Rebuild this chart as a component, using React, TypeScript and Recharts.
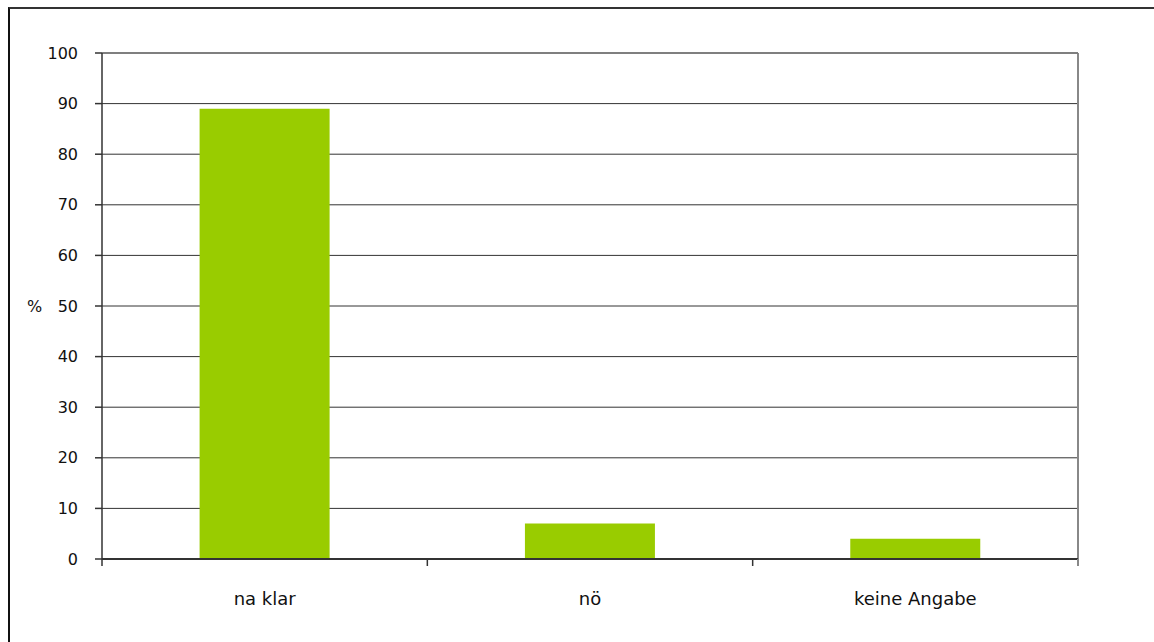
import React from 'react';
import { BarChart, Bar, XAxis, YAxis, CartesianGrid, ReferenceLine } from 'recharts';

const categories = ['na klar', 'nö', 'keine Angabe'];
const values = [89, 7, 4];
const yTicks = [0, 10, 20, 30, 40, 50, 60, 70, 80, 90, 100];

const data = categories.map((c, i) => ({ name: c, value: values[i] }));

const FONT = '"DejaVu Sans", Verdana, sans-serif';
const X_TICK_SIZE = 7;
const X_TICK_MARGIN = 33;

const CategoryTick = (props: any) => {
  const { x, y, payload, index, visibleTicksCount } = props;
  const half = payload && payload.offset ? payload.offset : 0;
  const axisY = y - X_TICK_MARGIN;
  const last = index === (visibleTicksCount ?? categories.length) - 1;
  return (
    <g>
      <line x1={x - half} x2={x - half} y1={axisY} y2={axisY + X_TICK_SIZE} stroke="#333" strokeWidth={1.5} />
      {last && (
        <line x1={x + half} x2={x + half} y1={axisY} y2={axisY + X_TICK_SIZE} stroke="#888" strokeWidth={2} />
      )}
      <text x={x} y={y} dy="0.71em" textAnchor="middle" fill="#111" fontSize={18} fontFamily={FONT}>
        {payload.value}
      </text>
    </g>
  );
};

export default function App() {
  return (
    <div style={{ position: 'absolute', left: 0, top: 0, width: 1154, height: 642, overflow: 'hidden', background: '#fff' }}>
      <div style={{ position: 'absolute', left: 8, top: 7, width: 1300, height: 800, borderTop: '2px solid #333', borderLeft: '2px solid #111' }} />
      <div style={{ position: 'absolute', left: 0, top: 0 }}>
        <BarChart
          width={1154}
          height={642}
          data={data}
          margin={{ top: 53, right: 76, bottom: 23, left: 0 }}
          barCategoryGap="30%"
        >
          <CartesianGrid horizontal vertical={false} stroke="#333" strokeWidth={1} />
          <CartesianGrid
            horizontal={false}
            vertical
            stroke="#888"
            strokeWidth={2}
            verticalCoordinatesGenerator={({ offset }: any) => [offset.left + offset.width]}
          />
          <XAxis
            dataKey="name"
            tickLine={false}
            tickSize={0}
            tickMargin={X_TICK_MARGIN}
            height={60}
            interval={0}
            axisLine={{ stroke: '#333', strokeWidth: 2 }}
            tick={<CategoryTick />}
          />
          <YAxis
            domain={[0, 100]}
            ticks={yTicks}
            width={102}
            tickSize={7}
            tickMargin={17}
            interval={0}
            axisLine={{ stroke: '#333', strokeWidth: 1.5 }}
            tickLine={{ stroke: '#333', strokeWidth: 1.5 }}
            tick={{ fill: '#111', fontSize: 16, fontFamily: FONT }}
            label={{ value: '%', position: 'insideLeft', offset: 27, fill: '#111', fontSize: 16, fontFamily: FONT }}
          />
          <ReferenceLine y={100} stroke="#777" strokeWidth={1.5} />
          <Bar dataKey="value" fill="#99CC00" isAnimationActive={false} />
        </BarChart>
      </div>
    </div>
  );
}
